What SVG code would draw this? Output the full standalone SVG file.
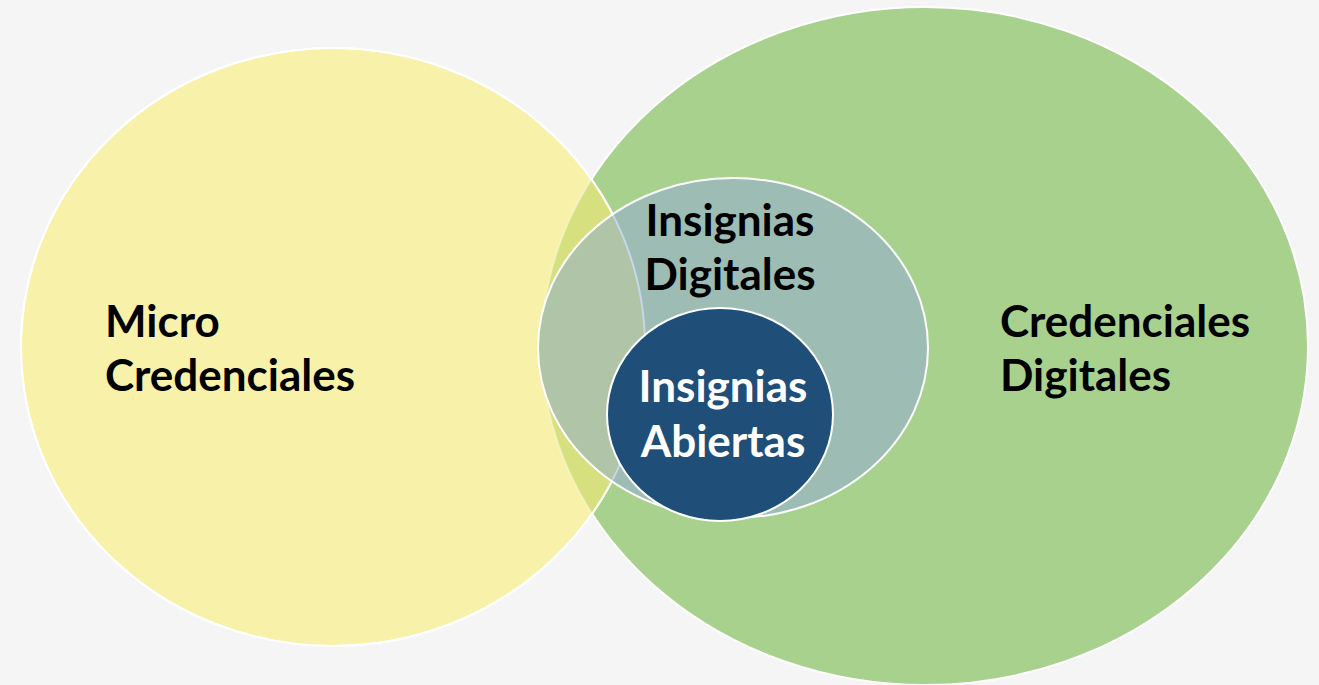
<svg xmlns="http://www.w3.org/2000/svg" width="1319" height="685" viewBox="0 0 1319 685">
  <style>
    .lbl { font-family: Lato, "Open Sans", "Liberation Sans", sans-serif; font-weight: bold; font-size: 44px; }
    .dark { fill: #000000; }
    .light { fill: #ffffff; }
    .edge { stroke: #ffffff; stroke-width: 2; }
  </style>
  <defs>
    <ellipse id="yellowShape" cx="333" cy="347" rx="312" ry="299"/>
    <ellipse id="greenShape" cx="925" cy="346" rx="383" ry="339"/>
    <ellipse id="midShape" cx="733" cy="348" rx="195" ry="170"/>
    <clipPath id="clipYellow"><use href="#yellowShape"/></clipPath>
    <clipPath id="clipMid"><use href="#midShape"/></clipPath>
  </defs>
  <rect width="1319" height="685" fill="#f5f5f5"/>

  <g id="credenciales-digitales">
    <use href="#greenShape" fill="#a9d18e" class="edge"/>
  </g>

  <g id="micro-credenciales">
    <use href="#yellowShape" fill="#f8f1a9" class="edge"/>
    <use href="#greenShape" clip-path="url(#clipYellow)" fill="#d6e07e" stroke="#ffffff" stroke-opacity="0.35" stroke-width="2"/>
    <use href="#yellowShape" fill="none" class="edge"/>
  </g>

  <g id="insignias-digitales">
    <use href="#midShape" fill="#9dbcb4"/>
    <use href="#yellowShape" clip-path="url(#clipMid)" fill="#b0c5a8" stroke="#c8d5ea" stroke-width="2"/>
    <use href="#midShape" fill="none" class="edge"/>
  </g>

  <g id="insignias-abiertas">
    <ellipse cx="720" cy="414.5" rx="113" ry="106.5" fill="#1f4e79" class="edge"/>
  </g>

  <g id="connectors"/>

  <g id="labels">
    <text class="lbl dark" x="105" y="337">Micro</text>
    <text class="lbl dark" x="105" y="391">Credenciales</text>
    <text class="lbl dark" x="1000" y="337">Credenciales</text>
    <text class="lbl dark" x="1000" y="391">Digitales</text>
    <text class="lbl dark" x="730" y="236" text-anchor="middle">Insignias</text>
    <text class="lbl dark" x="730" y="290" text-anchor="middle">Digitales</text>
    <text class="lbl light" x="723" y="402" text-anchor="middle">Insignias</text>
    <text class="lbl light" x="723" y="457" text-anchor="middle">Abiertas</text>
  </g>
</svg>
